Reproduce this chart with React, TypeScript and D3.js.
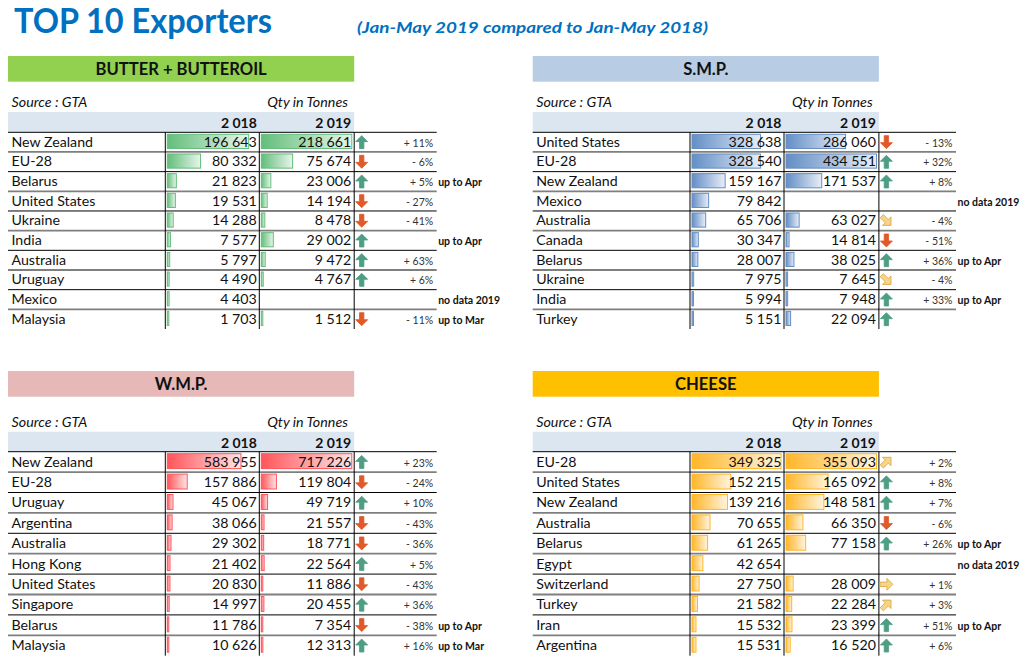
import React from "react";
import * as d3 from "d3";

// ---------- DATA ----------
const butterCountries = ["New Zealand", "EU-28", "Belarus", "United States", "Ukraine", "India", "Australia", "Uruguay", "Mexico", "Malaysia"];
const butter2018 = [196643, 80332, 21823, 19531, 14288, 7577, 5797, 4490, 4403, 1703];
const butter2019: (number | null)[] = [218661, 75674, 23006, 14194, 8478, 29002, 9472, 4767, null, 1512];
const butterPct: (number | null)[] = [11, -6, 5, -27, -41, null, 63, 6, null, -11];
const butterArrows = ["up", "down", "up", "down", "down", "up", "up", "up", "", "down"];
const butterNotes = ["", "", "up to Apr", "", "", "up to Apr", "", "", "no data 2019", "up to Mar"];

const smpCountries = ["United States", "EU-28", "New Zealand", "Mexico", "Australia", "Canada", "Belarus", "Ukraine", "India", "Turkey"];
const smp2018 = [328638, 328540, 159167, 79842, 65706, 30347, 28007, 7975, 5994, 5151];
const smp2019: (number | null)[] = [286060, 434551, 171537, null, 63027, 14814, 38025, 7645, 7948, 22094];
const smpPct: (number | null)[] = [-13, 32, 8, null, -4, -51, 36, -4, 33, null];
const smpArrows = ["down", "up", "up", "", "downright", "down", "up", "downright", "up", "up"];
const smpNotes = ["", "", "", "no data 2019", "", "", "up to Apr", "", "up to Apr", ""];

const wmpCountries = ["New Zealand", "EU-28", "Uruguay", "Argentina", "Australia", "Hong Kong", "United States", "Singapore", "Belarus", "Malaysia"];
const wmp2018 = [583955, 157886, 45067, 38066, 29302, 21402, 20830, 14997, 11786, 10626];
const wmp2019: (number | null)[] = [717226, 119804, 49719, 21557, 18771, 22564, 11886, 20455, 7354, 12313];
const wmpPct: (number | null)[] = [23, -24, 10, -43, -36, 5, -43, 36, -38, 16];
const wmpArrows = ["up", "down", "up", "down", "down", "up", "down", "up", "down", "up"];
const wmpNotes = ["", "", "", "", "", "", "", "", "up to Apr", "up to Mar"];

const cheeseCountries = ["EU-28", "United States", "New Zealand", "Australia", "Belarus", "Egypt", "Switzerland", "Turkey", "Iran", "Argentina"];
const cheese2018 = [349325, 152215, 139216, 70655, 61265, 42654, 27750, 21582, 15532, 15531];
const cheese2019: (number | null)[] = [355093, 165092, 148581, 66350, 77158, null, 28009, 22284, 23399, 16520];
const cheesePct: (number | null)[] = [2, 8, 7, -6, 26, null, 1, 3, 51, 6];
const cheeseArrows = ["upright", "up", "up", "down", "up", "", "right", "upright", "up", "up"];
const cheeseNotes = ["", "", "", "", "up to Apr", "no data 2019", "", "", "up to Apr", ""];

const yearLabels = ["2 018", "2 019"];

// ---------- LAYOUT / STYLE ----------
const FONT = "Lato, 'Open Sans', sans-serif";
const BLUE = "#0070C0";

interface Panel {
  id: string;
  title: string;
  bandColor: string;
  barColor: string;
  countries: string[];
  v2018: number[];
  v2019: (number | null)[];
  pct: (number | null)[];
  arrows: string[];
  notes: string[];
  x0: number;
  bandTop: number;
  headTop: number;
  rowTop: number;
  rowH: number;
  lineEnd: number;
}

const panels: Panel[] = [
  { id: "butter", title: "BUTTER + BUTTEROIL", bandColor: "#92D050", barColor: "#63BE7B", countries: butterCountries, v2018: butter2018, v2019: butter2019, pct: butterPct, arrows: butterArrows, notes: butterNotes, x0: 8, bandTop: 56, headTop: 112, rowTop: 132.3, rowH: 19.67, lineEnd: 428.7 },
  { id: "smp", title: "S.M.P.", bandColor: "#B8CCE4", barColor: "#638EC6", countries: smpCountries, v2018: smp2018, v2019: smp2019, pct: smpPct, arrows: smpArrows, notes: smpNotes, x0: 532.7, bandTop: 56, headTop: 112, rowTop: 132.3, rowH: 19.67, lineEnd: 423.3 },
  { id: "wmp", title: "W.M.P.", bandColor: "#E6B8B7", barColor: "#FF555A", countries: wmpCountries, v2018: wmp2018, v2019: wmp2019, pct: wmpPct, arrows: wmpArrows, notes: wmpNotes, x0: 8, bandTop: 371, headTop: 431.7, rowTop: 451.7, rowH: 20.4, lineEnd: 428.7 },
  { id: "cheese", title: "CHEESE", bandColor: "#FFC000", barColor: "#FFB628", countries: cheeseCountries, v2018: cheese2018, v2019: cheese2019, pct: cheesePct, arrows: cheeseArrows, notes: cheeseNotes, x0: 532.7, bandTop: 371, headTop: 431.7, rowTop: 451.7, rowH: 20.4, lineEnd: 423.3 },
];

const C1 = 157.3;
const C2 = 251.3;
const C3 = 346.2;

const fmtNum = (v: number) => d3.format(",")(v).replace(/,/g, " ");
const fmtPct = (p: number) => (p >= 0 ? "+ " : "- ") + Math.abs(p) + "%";

const ARROW_PATH = "M0,-6.5 L6,-0.5 L2.2,-0.5 L2.2,6.5 L-2.2,6.5 L-2.2,-0.5 L-6,-0.5 Z";
const arrowStyle: Record<string, { rot: number; fill: string; stroke: string }> = {
  up: { rot: 0, fill: "#4E9D85", stroke: "#4E9D85" },
  down: { rot: 180, fill: "#E0592A", stroke: "#E0592A" },
  upright: { rot: 45, fill: "#F6D488", stroke: "#DDA53F" },
  downright: { rot: 135, fill: "#F6D488", stroke: "#DDA53F" },
  right: { rot: 90, fill: "#F6D488", stroke: "#DDA53F" },
};

function PanelView({ p }: { p: Panel }) {
  const maxV = d3.max([...p.v2018, ...(p.v2019.filter((v) => v != null) as number[])]) as number;
  const barMax = C2 - C1 - 3.5;
  const xs = d3.scaleLinear().domain([0, maxV]).range([0, barMax]);
  const rows = d3.range(p.countries.length);
  const yRow = (i: number) => p.rowTop + i * p.rowH;
  const bottom = yRow(rows.length);
  const gid = "grad-" + p.id;
  const barH = p.rowH - 5.5;
  const bar = (colStart: number, v: number | null, i: number) => {
    if (v == null) return null;
    const w = Math.max(1.5, xs(v));
    return (
      <rect x={p.x0 + colStart + 2} y={yRow(i) + 2} width={w} height={barH} fill={`url(#${gid})`} stroke={p.barColor} strokeWidth={1} />
    );
  };
  return (
    <g>
      <defs>
        <linearGradient id={gid} x1="0" x2="1" y1="0" y2="0">
          <stop offset="0" stopColor={p.barColor} />
          <stop offset="1" stopColor={d3.interpolateRgb(p.barColor, "#ffffff")(0.85)} />
        </linearGradient>
      </defs>
      {/* band */}
      <rect x={p.x0} y={p.bandTop} width={C3} height={25.7} fill={p.bandColor} />
      <text x={p.x0 + C3 / 2} y={p.bandTop + 18.8} textAnchor="middle" fontFamily={FONT} fontWeight={700} fontSize={16.6} fill="#111">{p.title}</text>
      {/* source line */}
      <text x={p.x0 + 3.5} y={p.headTop - 5} fontFamily={FONT} fontStyle="italic" fontSize={14.3} fill="#111">Source : GTA</text>
      <text x={p.x0 + 340} y={p.headTop - 5} textAnchor="end" fontFamily={FONT} fontStyle="italic" fontSize={14.3} fill="#111">Qty in Tonnes</text>
      {/* header row */}
      <rect x={p.x0} y={p.headTop} width={C3} height={p.rowTop - p.headTop} fill="#DCE6F1" />
      <text x={p.x0 + C2 - 2.5} y={p.headTop + 15.8} textAnchor="end" fontFamily={FONT} fontWeight={700} fontSize={14} fill="#111">{yearLabels[0]}</text>
      <text x={p.x0 + C3 - 3} y={p.headTop + 15.8} textAnchor="end" fontFamily={FONT} fontWeight={700} fontSize={14} fill="#111">{yearLabels[1]}</text>
      {/* bars */}
      {rows.map((i) => (
        <g key={"b" + i}>
          {bar(C1, p.v2018[i], i)}
          {bar(C2, p.v2019[i], i)}
        </g>
      ))}
      {/* horizontal lines */}
      {rows.map((i) => (
        <line key={"h" + i} x1={p.x0} x2={p.x0 + p.lineEnd} y1={yRow(i)} y2={yRow(i)} stroke={i % 2 === 0 ? "#000" : "#7f7f7f"} strokeWidth={i % 2 === 0 ? 1 : 1.8} />
      ))}
      {/* vertical lines */}
      {[C1, C2, C3].map((c) => (
        <line key={"v" + c} x1={p.x0 + c} x2={p.x0 + c} y1={p.rowTop} y2={bottom} stroke="#000" strokeWidth={1} />
      ))}
      {/* texts */}
      {rows.map((i) => {
        const by = yRow(i) + p.rowH * 0.73;
        const a = arrowStyle[p.arrows[i]];
        return (
          <g key={"t" + i}>
            <text x={p.x0 + 3.5} y={by} fontFamily={FONT} fontSize={14.2} fill="#111">{p.countries[i]}</text>
            <text x={p.x0 + C2 - 2.5} y={by} textAnchor="end" fontFamily={FONT} fontSize={14.2} fill="#111">{fmtNum(p.v2018[i])}</text>
            {p.v2019[i] != null && (
              <text x={p.x0 + C3 - 3} y={by} textAnchor="end" fontFamily={FONT} fontSize={14.2} fill="#111">{fmtNum(p.v2019[i] as number)}</text>
            )}
            {a && (
              <path d={ARROW_PATH} transform={`translate(${p.x0 + C3 + 7.5},${yRow(i) + p.rowH / 2}) rotate(${a.rot})`} fill={a.fill} stroke={a.stroke} strokeWidth={0.8} strokeLinejoin="round" />
            )}
            {p.pct[i] != null && (
              <text x={p.x0 + p.lineEnd - 3.5} y={by} textAnchor="end" fontFamily={FONT} fontSize={10.5} fill="#333">{fmtPct(p.pct[i] as number)}</text>
            )}
            {p.notes[i] && (
              <text x={p.x0 + p.lineEnd + 1.5} y={by} fontFamily={FONT} fontWeight={700} fontSize={10.5} fill="#111">{p.notes[i]}</text>
            )}
          </g>
        );
      })}
    </g>
  );
}

export default function App() {
  return (
    <svg width={1024} height={659} style={{ position: "absolute", left: 0, top: 0, background: "#fff" }}>
      <rect x={0} y={0} width={1024} height={659} fill="#fff" />
      <text x={14} y={33} fontFamily={FONT} fontWeight={700} fontSize={34} fill={BLUE} textLength={258} lengthAdjust="spacingAndGlyphs">TOP 10 Exporters</text>
      <text x={357} y={33} fontFamily={FONT} fontWeight={700} fontStyle="italic" fontSize={15} fill={BLUE} textLength={351} lengthAdjust="spacingAndGlyphs">(Jan-May 2019 compared to Jan-May 2018)</text>
      {panels.map((p) => (
        <PanelView key={p.id} p={p} />
      ))}
    </svg>
  );
}
